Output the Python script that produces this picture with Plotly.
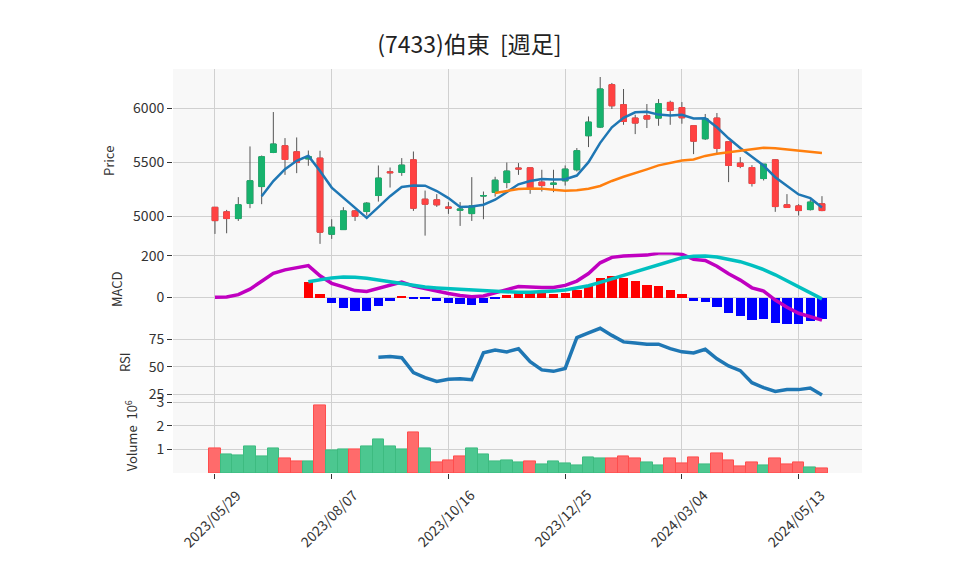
import pandas as pd
import numpy as np
import plotly.graph_objects as go
from plotly.subplots import make_subplots

dates = ["2023-05-29","2023-06-05","2023-06-12","2023-06-19","2023-06-26","2023-07-03","2023-07-10",
         "2023-07-17","2023-07-24","2023-07-31","2023-08-07","2023-08-14","2023-08-21","2023-08-28",
         "2023-09-04","2023-09-11","2023-09-18","2023-09-25","2023-10-02","2023-10-09","2023-10-16",
         "2023-10-23","2023-10-30","2023-11-06","2023-11-13","2023-11-20","2023-11-27","2023-12-04",
         "2023-12-11","2023-12-18","2023-12-25","2024-01-01","2024-01-08","2024-01-15","2024-01-22",
         "2024-01-29","2024-02-05","2024-02-12","2024-02-19","2024-02-26","2024-03-04","2024-03-11",
         "2024-03-18","2024-03-25","2024-04-01","2024-04-08","2024-04-15","2024-04-22","2024-04-29",
         "2024-05-06","2024-05-13","2024-05-20","2024-05-27"]

open_ = [5082,5040,4978,5117,5274,5589,5651,5595,5530,5537,4833,4876,5049,5043,5191,5410,5404,5521,
         5157,5151,5085,5055,5024,5186,5219,5311,5445,5447,5315,5295,5327,5429,5744,5824,6216,6031,
         5907,5929,5907,6052,6004,5836,5716,5907,5688,5491,5450,5348,5521,5105,5095,5061,5114]
high = [5085,5058,5176,5645,5561,5963,5722,5728,5607,5605,4972,5083,5058,5130,5469,5450,5537,5598,
        5237,5204,5130,5130,5361,5228,5364,5496,5491,5447,5429,5429,5469,5630,5922,6287,6232,6176,
        5938,6037,6083,6068,6055,5836,5945,5954,5688,5546,5472,5481,5528,5204,5111,5151,5185]
low = [4836,4842,4956,5074,5111,5583,5382,5398,5466,4744,4790,4876,4956,5006,5135,5265,5373,5049,
       4820,5086,5021,4910,4956,4972,5181,5259,5382,5207,5228,5222,5283,5413,5639,5815,5991,5845,
       5759,5815,5836,5845,5855,5574,5705,5568,5315,5444,5274,5330,5040,5080,5006,5052,5046]
close = [4959,4978,5105,5327,5549,5667,5524,5496,5552,4852,4898,5049,5000,5120,5352,5402,5472,5074,
         5111,5105,5075,5065,5095,5191,5333,5417,5437,5250,5283,5305,5435,5605,5870,6176,6021,5876,
         5861,5898,6040,5978,5910,5694,5901,5626,5469,5460,5302,5481,5089,5080,5052,5130,5052]
volume_m = [1.04,0.80,0.74,1.13,0.71,1.04,0.62,0.50,0.50,2.89,0.97,1.00,1.00,1.13,1.43,1.13,1.00,1.72,
            1.04,0.46,0.53,0.70,1.04,0.80,0.50,0.53,0.46,0.50,0.37,0.50,0.42,0.32,0.66,0.62,0.62,0.70,
            0.62,0.46,0.33,0.62,0.42,0.66,0.37,0.83,0.53,0.28,0.46,0.32,0.62,0.37,0.46,0.25,0.19]

x_tick_dates = ["2023-05-29","2023-08-07","2023-10-16","2023-12-25","2024-03-04","2024-05-13"]
x_tick_labels = ["2023/05/29","2023/08/07","2023/10/16","2023/12/25","2024/03/04","2024/05/13"]
vol_ticks = [1, 2, 3]
title_text = "(7433)伯東  [週足]"

df = pd.DataFrame({"date": pd.to_datetime(dates), "open": open_, "high": high,
                   "low": low, "close": close, "vol": volume_m})
c = df["close"]
ma5 = c.rolling(5).mean()
ma25 = c.rolling(25).mean()
ema12 = c.ewm(span=12, adjust=False).mean()
ema26 = c.ewm(span=26, adjust=False).mean()
macd = ema12 - ema26
signal = macd.rolling(9).mean()
hist = macd - signal
d = c.diff()
gain = d.clip(lower=0).rolling(14).mean()
loss = (-d.clip(upper=0)).rolling(14).mean()
rsi = 100 * gain / (gain + loss)

GREEN = "#17b26d"
RED = "#ff4242"
vol_colors = ["#ff6b6b"] + ["#4cc790" if d.iloc[i] > 0 else "#ff6b6b" for i in range(1, len(df))]
vol_lines = ["#ff4d4d"] + ["#3dbb80" if d.iloc[i] > 0 else "#ff4d4d" for i in range(1, len(df))]
hist_colors = ["#ff0000" if v >= 0 else "#0000ff" for v in hist.fillna(0)]

fig = make_subplots(rows=4, cols=1, shared_xaxes=True, vertical_spacing=0)

# wicks
fig.add_trace(go.Candlestick(x=df["date"], open=df["open"], high=df["high"], low=df["low"], close=df["close"],
                             increasing=dict(line=dict(color="#555555", width=1), fillcolor="#555555"),
                             decreasing=dict(line=dict(color="#555555", width=1), fillcolor="#555555"),
                             showlegend=False, hoverinfo="skip"), row=1, col=1)
body_hi = np.maximum(df["open"], df["close"])
body_lo = np.minimum(df["open"], df["close"])
fig.add_trace(go.Candlestick(x=df["date"], open=df["open"], high=body_hi, low=body_lo, close=df["close"],
                             increasing=dict(line=dict(color=GREEN, width=1), fillcolor=GREEN),
                             decreasing=dict(line=dict(color=RED, width=1), fillcolor=RED),
                             showlegend=False), row=1, col=1)
fig.add_trace(go.Scatter(x=df["date"], y=ma5, mode="lines", line=dict(color="#1f77b4", width=2.5),
                         showlegend=False), row=1, col=1)
fig.add_trace(go.Scatter(x=df["date"], y=ma25, mode="lines", line=dict(color="#ff7f0e", width=2.5),
                         showlegend=False), row=1, col=1)

week_ms = 7 * 86400000
fig.add_trace(go.Bar(x=df["date"], y=hist, marker=dict(color=hist_colors, line=dict(width=0)),
                     width=week_ms * 0.8, showlegend=False), row=2, col=1)
fig.add_trace(go.Scatter(x=df["date"], y=macd, mode="lines", line=dict(color="#c000c0", width=3.5),
                         showlegend=False), row=2, col=1)
fig.add_trace(go.Scatter(x=df["date"], y=signal, mode="lines", line=dict(color="#00c0c0", width=3.5),
                         showlegend=False), row=2, col=1)

fig.add_trace(go.Scatter(x=df["date"], y=rsi, mode="lines", line=dict(color="#1f77b4", width=3.5),
                         showlegend=False), row=3, col=1)

fig.add_trace(go.Bar(x=df["date"], y=df["vol"], marker=dict(color=vol_colors, line=dict(color=vol_lines, width=1)),
                     width=week_ms, showlegend=False), row=4, col=1)

FONT = "Noto Sans CJK JP"
grid = "#d0d0d0"
fig.update_layout(
    width=958, height=575,
    margin=dict(l=173, r=96, t=69, b=102),
    paper_bgcolor="white", plot_bgcolor="#f8f8f8",
    font=dict(family=FONT, size=14, color="#333333"),
    title=dict(text=title_text, x=0.49, xanchor="center", y=0.922, yanchor="middle",
               font=dict(family=FONT, size=23, color="#222222")),
    showlegend=False,
    bargap=0,
)
xr = ["2023-05-03 20:00", "2024-06-20"]
for i in range(1, 5):
    fig.update_xaxes(row=i, col=1, type="date", range=xr, showgrid=True, gridcolor=grid,
                     tickvals=x_tick_dates, showticklabels=False,
                     rangeslider=dict(visible=False), zeroline=False, showline=False)
fig.update_xaxes(row=4, col=1, ticks="outside", ticklen=5, tickcolor="#333333")

# rotated date labels centred under their ticks
for dt, lab in zip(x_tick_dates, x_tick_labels):
    fig.add_annotation(x=dt, y=0, xref="x4", yref="paper", text=lab, textangle=-45,
                       showarrow=False, xanchor="center", yanchor="middle", yshift=-45, xshift=-3,
                       font=dict(family=FONT, size=14, color="#333333"))

fig.update_yaxes(row=1, col=1, domain=[0.5455, 1.0], range=[4663, 6361], dtick=500,
                 title=dict(text="Price", font=dict(size=13)))
fig.update_yaxes(row=2, col=1, domain=[0.3638, 0.5455], range=[-139, 216], dtick=200, tick0=0,
                 title=dict(text="MACD", font=dict(size=13)))
fig.update_yaxes(row=3, col=1, domain=[0.1846, 0.3638], range=[21.1, 87.2], dtick=25, tick0=0,
                 title=dict(text="RSI", font=dict(size=13)))
fig.update_yaxes(row=4, col=1, domain=[0.0, 0.1846], range=[0, 3.17], tickvals=vol_ticks,
                 title=dict(text="Volume  10<sup>6</sup>", font=dict(size=13)))
fig.update_yaxes(showgrid=True, gridcolor=grid, zeroline=False, showline=False,
                 ticks="outside", ticklen=5, tickcolor="#333333", tickfont=dict(size=14))

fig.write_html("out.html")
